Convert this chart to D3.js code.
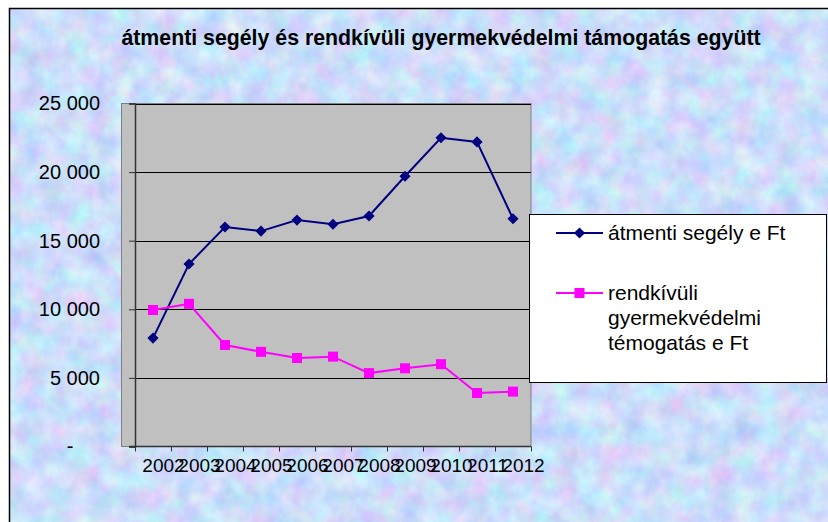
<!DOCTYPE html>
<html>
<head>
<meta charset="utf-8">
<script src="https://cdn.jsdelivr.net/npm/d3@7"></script>
<style>
  body { margin: 0; background: #fff; }
  text { font-family: "Liberation Sans", Arial, sans-serif; fill: #000; }
</style>
</head>
<body>
<div id="chart"></div>
<script>
const years = ["2002", "2003", "2004", "2005", "2006", "2007", "2008", "2009", "2010", "2011", "2012"];
const atmentiSegely = [7900, 13300, 16000, 15700, 16500, 16200, 16800, 19700, 22500, 22200, 16600];
const rendkivuli = [9950, 10400, 7400, 6900, 6450, 6550, 5350, 5700, 6000, 3900, 4000];
const yTicks = [0, 5000, 10000, 15000, 20000, 25000];
const yTickLabels = ["-", "5 000", "10 000", "15 000", "20 000", "25 000"];
const title = "átmenti segély és rendkívüli gyermekvédelmi támogatás együtt";
const seriesNames = [["átmenti segély e Ft"], ["rendkívüli", "gyermekvédelmi", "témogatás e Ft"]];

const W = 828, H = 522;
const plot = { left: 135, right: 531, top: 103.5, bottom: 446.5 };

const svg = d3.select("#chart").append("svg")
  .attr("width", W)
  .attr("height", H);

// pastel marble background
const defs = svg.append("defs");
const flt = defs.append("filter")
  .attr("id", "marble")
  .attr("x", 0).attr("y", 0).attr("width", 1).attr("height", 1)
  .attr("color-interpolation-filters", "sRGB");
flt.append("feTurbulence")
  .attr("type", "fractalNoise")
  .attr("baseFrequency", 0.045)
  .attr("numOctaves", 5)
  .attr("seed", 7);
flt.append("feColorMatrix")
  .attr("type", "matrix")
  .attr("values", "0.32 0 0 0 0.64  0 0.28 0 0 0.73  0 0 0.1 0 0.93  0 0 0 0 1");

svg.append("rect")
  .attr("x", 9).attr("y", 8)
  .attr("width", W).attr("height", H)
  .attr("filter", "url(#marble)");
svg.append("rect")
  .attr("x", 9.5).attr("y", 8.5)
  .attr("width", W).attr("height", H)
  .attr("fill", "none")
  .attr("stroke", "#000")
  .attr("stroke-width", 1.5);

svg.append("text")
  .attr("x", 441)
  .attr("y", 45)
  .attr("text-anchor", "middle")
  .attr("font-weight", "bold")
  .attr("font-size", "21.3px")
  .text(title);

const x = d3.scaleBand().domain(years).range([plot.left, plot.right]).padding(0);
const y = d3.scaleLinear().domain([0, 25000]).range([plot.bottom, plot.top]);

// gray plot area (Excel draws it a bit wider on the left)
svg.append("rect")
  .attr("x", 121.5)
  .attr("y", plot.top)
  .attr("width", plot.right - 121.5)
  .attr("height", plot.bottom - plot.top)
  .attr("fill", "#c0c0c0")
  .attr("stroke", "#808080")
  .attr("stroke-width", 1);

svg.append("g")
  .selectAll("line")
  .data(yTicks.slice(1))
  .join("line")
  .attr("x1", plot.left).attr("x2", plot.right)
  .attr("y1", d => Math.round(y(d)) + 0.5).attr("y2", d => Math.round(y(d)) + 0.5)
  .attr("stroke", "#000")
  .attr("stroke-width", 1);

// y axis
const yAxis = svg.append("g")
  .attr("transform", `translate(${plot.left},0)`)
  .call(d3.axisLeft(y).tickValues(yTicks).tickSize(6).tickFormat((d, i) => yTickLabels[i]));
yAxis.select(".domain").attr("stroke", "#333").attr("stroke-width", 1.5);
yAxis.selectAll(".tick line").attr("stroke", "#333");
yAxis.selectAll(".tick text")
  .attr("x", -35)
  .attr("font-size", "20px")
  .attr("font-family", "Liberation Sans, Arial, sans-serif")
  .attr("fill", "#000");
yAxis.selectAll(".tick text").filter(d => d === 0)
  .attr("x", -65)
  .attr("text-anchor", "middle");

// x axis with ticks at category boundaries
const xa = svg.append("g");
xa.append("line")
  .attr("x1", 129).attr("x2", plot.right)
  .attr("y1", plot.bottom).attr("y2", plot.bottom)
  .attr("stroke", "#333").attr("stroke-width", 1.5);
xa.selectAll(".xt")
  .data(years)
  .join("line")
  .attr("class", "xt")
  .attr("x1", d => x(d) + x.bandwidth() + 0.5).attr("x2", d => x(d) + x.bandwidth() + 0.5)
  .attr("y1", plot.bottom).attr("y2", plot.bottom + 5)
  .attr("stroke", "#333");
xa.append("line")
  .attr("x1", plot.left + 0.5).attr("x2", plot.left + 0.5)
  .attr("y1", plot.bottom).attr("y2", plot.bottom + 5)
  .attr("stroke", "#333");
// the labels are wider than a category, so they run into each other as in the original
xa.selectAll("text")
  .data(years)
  .join("text")
  .attr("x", d => x(d) + x.bandwidth() / 2 + 10.5)
  .attr("y", plot.bottom + 25)
  .attr("text-anchor", "middle")
  .attr("font-size", "19px")
  .text(d => d);

const line = d3.line()
  .x((d, i) => x(years[i]) + x.bandwidth() / 2)
  .y(d => y(d));

const series = [
  { values: atmentiSegely, color: "#000080", shape: d3.symbolSquare, size: 62, rotate: 45 },
  { values: rendkivuli, color: "#ff00ff", shape: d3.symbolSquare, size: 100, rotate: 0 }
];

series.forEach(s => {
  svg.append("path")
    .datum(s.values)
    .attr("fill", "none")
    .attr("stroke", s.color)
    .attr("stroke-width", 2)
    .attr("d", line);
  svg.append("g")
    .selectAll("path")
    .data(s.values)
    .join("path")
    .attr("transform", (d, i) => `translate(${x(years[i]) + x.bandwidth() / 2},${y(d)}) rotate(${s.rotate})`)
    .attr("d", d3.symbol(s.shape, s.size))
    .attr("fill", s.color);
});

// legend
const legend = svg.append("g");
legend.append("rect")
  .attr("x", 529.5).attr("y", 214.5)
  .attr("width", 297).attr("height", 168)
  .attr("fill", "#fff")
  .attr("stroke", "#000")
  .attr("stroke-width", 1);

const legendY = [233, 293];
series.forEach((s, i) => {
  const g = legend.append("g").attr("transform", `translate(0,${legendY[i]})`);
  g.append("line")
    .attr("x1", 556).attr("x2", 603)
    .attr("stroke", s.color).attr("stroke-width", 2);
  g.append("path")
    .attr("transform", `translate(579.5,0) rotate(${s.rotate})`)
    .attr("d", d3.symbol(s.shape, s.size))
    .attr("fill", s.color);
  seriesNames[i].forEach((t, j) => {
    g.append("text")
      .attr("x", 608)
      .attr("y", 7 + j * 25)
      .attr("font-size", "21px")
      .text(t);
  });
});
</script>
</body>
</html>
